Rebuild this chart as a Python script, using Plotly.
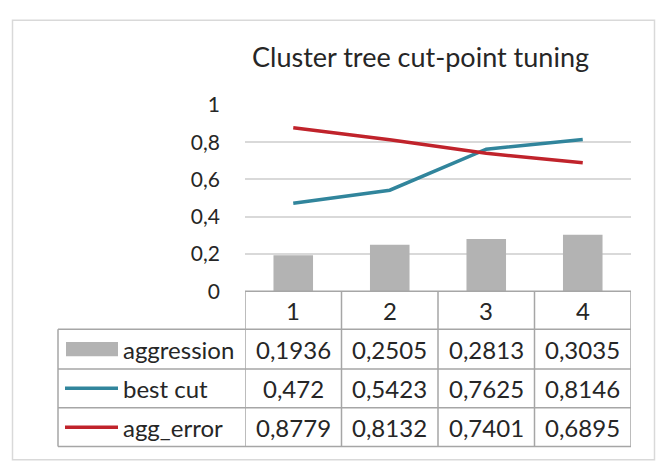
import plotly.graph_objects as go

# ---- data ----
categories = ["1", "2", "3", "4"]
aggression = [0.1936, 0.2505, 0.2813, 0.3035]
best_cut = [0.472, 0.5423, 0.7625, 0.8146]
agg_error = [0.8779, 0.8132, 0.7401, 0.6895]
series_names = ["aggression", "best cut", "agg_error"]
y_tick_vals = [0, 0.2, 0.4, 0.6, 0.8, 1]
y_tick_text = ["0", "0,2", "0,4", "0,6", "0,8", "1"]
chart_title = "Cluster tree cut-point tuning"

# ---- style ----
W, H = 660, 468
FONT = "Lato"
TXT = "#262626"
BAR_C = "#B3B3B3"
TEAL = "#31859C"
RED = "#C0232B"
GRID = "#D9D9D9"
TBL = "#A6A6A6"
FS = 24
FS_TICK = 21
FS_TITLE = 27


def px(x):
    return x / W


def py(y):
    return 1 - y / H


def fmt(v):
    return str(v).replace(".", ",")


xcat = list(range(1, len(categories) + 1))

fig = go.Figure()
fig.add_trace(go.Bar(x=xcat, y=aggression, name=series_names[0],
                     marker=dict(color=BAR_C, line=dict(width=0)), width=0.41))
fig.add_trace(go.Scatter(x=xcat, y=best_cut, name=series_names[1], mode="lines",
                         line=dict(color=TEAL, width=3.5)))
fig.add_trace(go.Scatter(x=xcat, y=agg_error, name=series_names[2], mode="lines",
                         line=dict(color=RED, width=3.5)))

shapes = []
annotations = []

# chart border (bottom edge lies just outside the picture)
shapes.append(dict(type="rect", xref="paper", yref="paper",
                   x0=px(12.5), x1=px(654.5), y0=py(471), y1=py(6.5),
                   line=dict(color=GRID, width=1.5), layer="below"))

# data table under the plot
row_edges = [293, 333, 375, 416, 457]
left_edge = 58
right_edge = 631

shapes.append(dict(type="line", xref="x", yref="paper",
                   x0=0.5, x1=len(categories) + 0.5, y0=py(row_edges[0]), y1=py(row_edges[0]),
                   line=dict(color=TBL, width=1.5)))
for ye in row_edges[1:]:
    shapes.append(dict(type="line", xref="paper", yref="paper",
                       x0=px(left_edge), x1=px(right_edge), y0=py(ye), y1=py(ye),
                       line=dict(color=TBL, width=1.5)))
shapes.append(dict(type="line", xref="paper", yref="paper",
                   x0=px(left_edge), x1=px(left_edge), y0=py(row_edges[1]), y1=py(row_edges[-1]),
                   line=dict(color=TBL, width=1.5)))
for i in range(len(categories) + 1):
    xe = i + 0.5
    shapes.append(dict(type="line", xref="x", yref="paper",
                       x0=xe, x1=xe, y0=py(row_edges[0]), y1=py(row_edges[-1]),
                       line=dict(color=TBL, width=1.5)))

row_centers = [(row_edges[k] + row_edges[k + 1]) / 2 for k in range(len(row_edges) - 1)]

for i, c in enumerate(categories):
    annotations.append(dict(x=xcat[i], y=py(row_centers[0]), xref="x", yref="paper",
                            text=c, showarrow=False, xanchor="center", yanchor="middle",
                            font=dict(family=FONT, size=FS, color=TXT)))

series_vals = [aggression, best_cut, agg_error]
for r, (name, vals) in enumerate(zip(series_names, series_vals)):
    yc = row_centers[r + 1]
    for i, v in enumerate(vals):
        annotations.append(dict(x=xcat[i], y=py(yc), xref="x", yref="paper",
                                text=fmt(v), showarrow=False, xanchor="center", yanchor="middle",
                                font=dict(family=FONT, size=FS, color=TXT)))
    annotations.append(dict(x=px(121), y=py(yc), xref="paper", yref="paper",
                            text=name, showarrow=False, xanchor="left", yanchor="middle",
                            font=dict(family=FONT, size=FS, color=TXT)))

# legend keys inside the table
shapes.append(dict(type="rect", xref="paper", yref="paper",
                   x0=px(66), x1=px(118), y0=py(row_centers[1] + 7.5), y1=py(row_centers[1] - 7.5),
                   fillcolor=BAR_C, line=dict(width=0)))
for r, col in [(2, TEAL), (3, RED)]:
    shapes.append(dict(type="line", xref="paper", yref="paper",
                       x0=px(65), x1=px(118), y0=py(row_centers[r]), y1=py(row_centers[r]),
                       line=dict(color=col, width=3.5)))

annotations.append(dict(x=px(420.5), y=py(45), xref="paper", yref="paper",
                        text=chart_title, showarrow=False, xanchor="center", yanchor="middle",
                        font=dict(family=FONT, size=FS_TITLE, color=TXT)))

fig.update_layout(
    width=W, height=H, margin=dict(l=0, r=0, t=0, b=0),
    paper_bgcolor="white", plot_bgcolor="white",
    showlegend=False, shapes=shapes, annotations=annotations,
    font=dict(family=FONT, size=FS, color=TXT),
    xaxis=dict(domain=[px(245), px(631)], range=[0.5, len(categories) + 0.5],
               showticklabels=False, showgrid=False, zeroline=False, showline=False,
               fixedrange=True),
    yaxis=dict(domain=[py(293), py(96)], range=[0, 1],
               tickvals=y_tick_vals, ticktext=y_tick_text,
               showgrid=True, gridcolor=GRID, gridwidth=1.5, zeroline=False, showline=False,
               ticks="", ticklabelstandoff=24, tickfont=dict(family=FONT, size=FS_TICK, color=TXT),
               fixedrange=True),
)

post = "document.body.style.margin='0';document.body.style.overflow='hidden';"
fig.write_html("out.html", config={"displayModeBar": False}, post_script=post)
